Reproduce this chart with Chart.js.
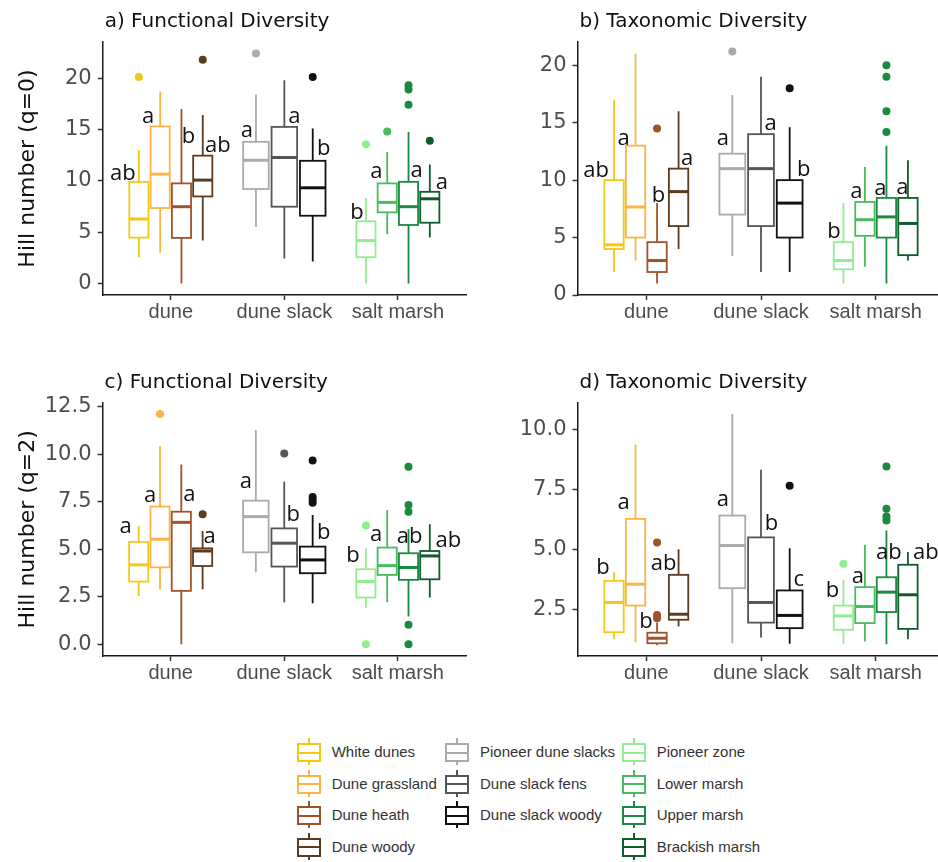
<!DOCTYPE html>
<html>
<head>
<meta charset="utf-8">
<title>Hill numbers by habitat</title>
<script src="https://cdn.jsdelivr.net/npm/chart.js@4.4.1/dist/chart.umd.min.js"></script>
<style>
  html, body { margin: 0; padding: 0; background: #fff; overflow: hidden; }
  body { width: 938px; height: 862px; position: relative; }
  canvas { position: absolute; }
  .key { position: absolute; width: 24px; height: 28px; }
  .key i { position: absolute; display: block; box-sizing: content-box; }
  .lbl { position: absolute; font: 15px "Liberation Sans", Arial, sans-serif; color: #333; white-space: nowrap; line-height: 20px; }
</style>
</head>
<body>
<canvas id="pa" width="470" height="340" style="left:0;top:0"></canvas>
<canvas id="pb" width="480" height="340" style="left:470px;top:0"></canvas>
<canvas id="pc" width="470" height="340" style="left:0;top:360px"></canvas>
<canvas id="pd" width="480" height="340" style="left:470px;top:360px"></canvas>
<div id="legend"></div>
<script>
const groups = ['dune', 'dune slack', 'salt marsh'];
const habitats = ['White dunes', 'Dune grassland', 'Dune heath', 'Dune woody',
  'Pioneer dune slacks', 'Dune slack fens', 'Dune slack woody',
  'Pioneer zone', 'Lower marsh', 'Upper marsh', 'Brackish marsh'];
const habitatGroup = [0, 0, 0, 0, 1, 1, 1, 2, 2, 2, 2];
const colours = ['#F3C913', '#FDB444', '#A0522D', '#5C3A1E', '#AAAAAA', '#555555',
  '#111111', '#90EE90', '#48BC5A', '#1B8A40', '#0F5C2C'];

// box summaries: [lower whisker, Q1, median, Q3, upper whisker]
const funcQ0 = [
  [2.56, 4.47, 6.28, 9.90, 13.0],
  [3.0, 7.35, 10.65, 15.3, 18.7],
  [0, 4.44, 7.48, 9.75, 17.0],
  [4.18, 8.48, 10.07, 12.45, 16.4],
  [5.5, 9.2, 12.0, 13.8, 18.4],
  [2.43, 7.48, 12.27, 15.25, 19.8],
  [2.14, 6.6, 9.32, 11.95, 15.1],
  [0, 2.56, 4.18, 6.06, 8.32],
  [4.8, 6.93, 7.9, 9.75, 12.8],
  [0, 5.7, 7.48, 9.9, 14.76],
  [4.47, 5.92, 8.25, 8.93, 11.6]
];
const funcQ0Outliers = [[20.1], [], [], [21.8], [22.4], [], [20.1], [13.56], [14.8], [19.3, 18.9, 17.4], [13.9]];
const funcQ0Letters = ['ab', 'a', 'b', 'ab', 'a', 'a', 'b', 'b', 'a', 'a', 'a'];

const taxQ0 = [
  [2, 4.0, 4.37, 10, 17],
  [3, 5, 7.66, 13, 21],
  [1, 2, 3, 4.6, 8],
  [4, 6, 9, 11, 16],
  [3.4, 7, 11, 12.3, 17.4],
  [2, 6, 11, 14, 19],
  [2, 5, 8, 10, 14.6],
  [1, 2.24, 3, 4.6, 8],
  [2.47, 5.15, 6.55, 8.1, 11.15],
  [1, 5, 6.8, 8.45, 13],
  [3, 3.47, 6.23, 8.45, 11.73]
];
const taxQ0Outliers = [[], [], [14.5], [], [21.2], [], [18], [], [], [20, 19, 16, 14.2], []];
const taxQ0Letters = ['ab', 'a', 'b', 'a', 'a', 'a', 'b', 'b', 'a', 'a', 'a'];

const funcQ2 = [
  [2.54, 3.30, 4.18, 5.39, 6.23],
  [2.89, 4.05, 5.53, 7.25, 10.44],
  [0, 2.81, 6.42, 6.98, 9.47],
  [2.89, 4.12, 4.91, 5.05, 5.96],
  [3.79, 4.84, 6.72, 7.56, 11.28],
  [2.21, 4.09, 5.32, 6.1, 8.56],
  [2.16, 3.74, 4.44, 5.14, 6.81],
  [1.89, 2.46, 3.3, 3.95, 5.05],
  [2.21, 3.65, 4.14, 5.09, 7.07],
  [1.46, 3.39, 4.04, 4.79, 6.05],
  [2.46, 3.42, 4.65, 4.91, 6.32]
];
const funcQ2Outliers = [[], [12.12], [], [6.84], [], [10.05], [9.67, 7.75, 7.6, 7.45], [6.25, 0], [], [9.35, 7.33, 6.98, 1.02, 0], []];
const funcQ2Letters = ['a', 'a', 'a', 'a', 'a', 'b', 'b', 'b', 'a', 'ab', 'ab'];

const taxQ2 = [
  [1.25, 1.54, 2.78, 3.68, 4.04],
  [1.12, 2.65, 3.54, 6.26, 9.35],
  [1.0, 1.08, 1.29, 1.52, 1.95],
  [1.78, 2.06, 2.29, 3.93, 5.0],
  [1.08, 3.375, 5.15, 6.4, 10.64],
  [1.32, 1.94, 2.78, 5.49, 8.31],
  [1.06, 1.71, 2.24, 3.28, 5.04],
  [1.06, 1.64, 2.22, 2.65, 3.72],
  [1.15, 1.92, 2.61, 3.42, 5.18],
  [1.04, 2.38, 3.21, 3.83, 5.78],
  [1.25, 1.68, 3.1, 4.35, 4.88]
];
const taxQ2Outliers = [[], [], [5.28, 2.26, 2.12], [], [], [], [7.64], [4.39], [], [8.44, 6.68, 6.36, 6.19], []];
const taxQ2Letters = ['b', 'a', 'b', 'ab', 'a', 'b', 'c', 'b', 'a', 'ab', 'ab'];

const ticksQ0 = [0, 5, 10, 15, 20];
const ticksFuncQ2 = [0, 2.5, 5, 7.5, 10, 12.5];
const ticksTaxQ2 = [2.5, 5, 7.5, 10];

// where each letter sits: horizontal nudge (px) from the box centre, height in axis units
const letterPlace = {
  a: { dx: [-16, -12, 7, 15, -9, 10, 11, -9, -11, 8, 12],
       y: [10.72, 16.21, 14.27, 13.4, 14.85, 16.21, 13.08, 6.93, 10.87, 10.94, 9.84] },
  b: { dx: [-18, -12, 1.5, 8.5, -9.5, 9.5, 14, -9.5, -8.5, -6, -5.5],
       y: [10.86, 13.6, 8.65, 11.85, 13.6, 14.93, 10.92, 5.53, 8.97, 9.26, 9.37] },
  c: { dx: [-13, -10, 8, 7, -10, 9, 11, -13, -11, 1, 18.5],
       y: [6.19, 7.82, 7.86, 5.66, 8.56, 6.81, 5.87, 4.65, 5.75, 5.66, 5.44] },
  d: { dx: [-11, -12, -11, -15, -9.5, 10.5, 9, -11, -7, 2.5, 18],
       y: [4.21, 6.92, 1.98, 4.38, 7.05, 6.05, 3.72, 3.28, 3.86, 4.86, 4.86] }
};

// dodged position of a habitat inside its group (ggplot style: 0.75 wide, boxes at 90%)
function dodge(i) {
  const g = habitatGroup[i];
  const members = habitatGroup.map((v, j) => v === g ? j : -1).filter(j => j >= 0);
  const slot = 0.75 / members.length;
  const k = members.indexOf(i);
  return { x: g + 1 - 0.375 + slot * (k + 0.5), w: slot * 0.9 };
}

function boxPlugin(p) {
  return {
    id: 'boxes',
    beforeDatasetsDraw(chart) {
      const { ctx, scales: { x, y } } = chart;
      ctx.save();
      p.stats.forEach((s, i) => {
        const d = dodge(i);
        const cx = x.getPixelForValue(d.x);
        const hw = x.getPixelForValue(d.x + d.w / 2) - cx;
        const [lo, q1, med, q3, hi] = s.map(v => y.getPixelForValue(v));
        ctx.strokeStyle = colours[i];
        ctx.lineWidth = 1.8;
        ctx.beginPath();
        ctx.moveTo(cx, hi); ctx.lineTo(cx, q3);
        ctx.moveTo(cx, q1); ctx.lineTo(cx, lo);
        ctx.stroke();
        ctx.fillStyle = '#fff';
        ctx.fillRect(cx - hw, q3, hw * 2, q1 - q3);
        ctx.strokeRect(cx - hw, q3, hw * 2, q1 - q3);
        ctx.lineWidth = 3;
        ctx.beginPath();
        ctx.moveTo(cx - hw, med); ctx.lineTo(cx + hw, med);
        ctx.stroke();
      });
      ctx.restore();
    },
    afterDatasetsDraw(chart) {
      const { ctx, scales: { x, y } } = chart;
      ctx.save();
      ctx.font = '22px "Open Sans"';
      ctx.fillStyle = '#111';
      ctx.textAlign = 'center';
      ctx.textBaseline = 'middle';
      p.letters.forEach((t, i) => {
        const cx = x.getPixelForValue(dodge(i).x);
        ctx.fillText(t, cx + p.place.dx[i], y.getPixelForValue(p.place.y[i]));
      });
      ctx.restore();
    },
    afterDraw(chart) {
      const { ctx, chartArea } = chart;
      ctx.save();
      ctx.fillStyle = '#111';
      ctx.font = '20px "DejaVu Sans"';
      ctx.textAlign = 'left';
      ctx.textBaseline = 'alphabetic';
      ctx.fillText(p.title, chartArea.left + 2, chartArea.top - 15);
      if (p.yTitle) {
        ctx.font = '22px "DejaVu Sans"';
        ctx.textAlign = 'center';
        ctx.translate(33.5, (chartArea.top + chartArea.bottom) / 2);
        ctx.rotate(-Math.PI / 2);
        ctx.fillText(p.yTitle, 0, 0);
      }
      ctx.restore();
    }
  };
}

const panels = [
  { id: 'pa', title: 'a) Functional Diversity', yTitle: 'Hill number (q=0)',
    stats: funcQ0, outliers: funcQ0Outliers, letters: funcQ0Letters, place: letterPlace.a,
    yMin: -1.12, yMax: 23.52, yTicks: ticksQ0, dec: 0,
    canvas: { left: 0, top: 0, width: 470, height: 340 },
    area: { left: 102.7, top: 42, right: 469.7, bottom: 295 } },
  { id: 'pb', title: 'b) Taxonomic Diversity', yTitle: '',
    stats: taxQ0, outliers: taxQ0Outliers, letters: taxQ0Letters, place: letterPlace.b,
    yMin: 0, yMax: 22.05, yTicks: ticksQ0, dec: 0,
    canvas: { left: 470, top: 0, width: 480, height: 340 },
    area: { left: 577.5, top: 41.7, right: 944.5, bottom: 295 } },
  { id: 'pc', title: 'c) Functional Diversity', yTitle: 'Hill number (q=2)',
    stats: funcQ2, outliers: funcQ2Outliers, letters: funcQ2Letters, place: letterPlace.c,
    yMin: -0.62, yMax: 12.72, yTicks: ticksFuncQ2, dec: 1,
    canvas: { left: 0, top: 360, width: 470, height: 340 },
    area: { left: 102.5, top: 402.7, right: 469.5, bottom: 656 } },
  { id: 'pd', title: 'd) Taxonomic Diversity', yTitle: '',
    stats: taxQ2, outliers: taxQ2Outliers, letters: taxQ2Letters, place: letterPlace.d,
    yMin: 0.55, yMax: 11.1, yTicks: ticksTaxQ2, dec: 1,
    canvas: { left: 470, top: 360, width: 480, height: 340 },
    area: { left: 577.5, top: 402.7, right: 944.5, bottom: 656 } }
];

const axisGrid = { drawOnChartArea: false, tickLength: 5, tickWidth: 1.5, tickColor: '#333', color: '#333' };
const axisBorder = { display: true, color: '#1a1a1a', width: 1.5 };

panels.forEach(p => {
  const c = p.canvas, a = p.area;
  new Chart(document.getElementById(p.id), {
    type: 'scatter',
    data: {
      datasets: habitats.map((h, i) => ({
        label: h,
        data: p.outliers[i].map(v => ({ x: dodge(i).x, y: v })),
        backgroundColor: colours[i],
        borderWidth: 0,
        pointRadius: 4,
        pointHoverRadius: 4
      }))
    },
    options: {
      responsive: false,
      animation: false,
      events: [],
      layout: { padding: { top: a.top - c.top, left: 0, right: c.left + c.width - a.right, bottom: 0 } },
      plugins: { legend: { display: false }, tooltip: { enabled: false } },
      scales: {
        x: {
          type: 'linear', min: 0.4, max: 3.6,
          afterBuildTicks: s => { s.ticks = groups.map((g, i) => ({ value: i + 1 })); },
          afterFit: s => { s.height = c.top + c.height - a.bottom; },
          ticks: {
            callback: v => groups[v - 1],
            color: '#4D4D4D', padding: 0, maxRotation: 0, autoSkip: false,
            font: { family: '"Liberation Sans", Arial, sans-serif', size: 20 }
          },
          grid: axisGrid, border: axisBorder
        },
        y: {
          min: p.yMin, max: p.yMax,
          afterBuildTicks: s => { s.ticks = p.yTicks.map(v => ({ value: v })); },
          afterFit: s => { s.width = a.left - c.left; },
          ticks: {
            callback: v => v.toFixed(p.dec),
            color: '#4D4D4D', padding: 6,
            font: { family: '"DejaVu Sans", sans-serif', size: 21 }
          },
          grid: axisGrid, border: axisBorder
        }
      }
    },
    plugins: [boxPlugin(p)]
  });
});

// legend: one column per habitat group
const keyCols = [296.7, 445, 621.7];
const textCols = [331.7, 480, 656.7];
const legend = document.getElementById('legend');
habitats.forEach((name, i) => {
  const g = habitatGroup[i];
  const row = habitatGroup.slice(0, i).filter(v => v === g).length;
  const cy = 752.3 + row * 31.5;
  const col = colours[i];
  const key = document.createElement('div');
  key.className = 'key';
  key.style.left = keyCols[g] + 'px';
  key.style.top = (cy - 14) + 'px';
  key.innerHTML =
    `<i style="left:11px;top:0;width:2px;height:27px;background:${col}"></i>` +
    `<i style="left:0;top:5px;width:20px;height:15px;border:2px solid ${col};background:#fff"></i>` +
    `<i style="left:2px;top:13.5px;width:20px;height:2px;background:${col}"></i>`;
  legend.appendChild(key);
  const lbl = document.createElement('div');
  lbl.className = 'lbl';
  lbl.style.left = textCols[g] + 'px';
  lbl.style.top = (cy - 10) + 'px';
  lbl.textContent = name;
  legend.appendChild(lbl);
});
</script>
</body>
</html>
